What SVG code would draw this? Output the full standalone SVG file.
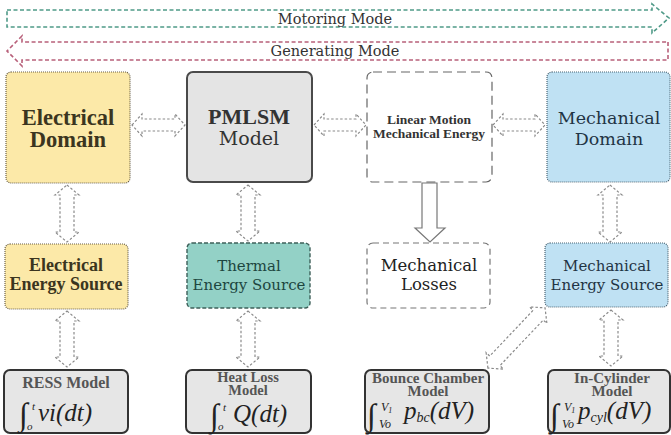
<svg xmlns="http://www.w3.org/2000/svg" width="671" height="435" viewBox="0 0 671 435">
<defs>
<style>
text{font-family:"Liberation Serif","Times New Roman",serif;text-anchor:middle}
.r{font-family:"DejaVu Serif","Liberation Serif",serif}
.b{font-weight:bold}
.m{font-style:italic;text-anchor:start}
.da{fill:#fff;stroke:#8a8a8a;stroke-width:1.2;stroke-dasharray:2.5 2}
.yel{fill:#fce9a8;stroke:#6a6048;stroke-width:1.2;stroke-dasharray:1 1}
.blu{fill:#bfe1f3;stroke:#4d6675;stroke-width:1.2;stroke-dasharray:1 1}
.gry{fill:#e4e4e4;stroke:#4a4a4a;stroke-width:2}
.bot{fill:#e6e6e6;stroke:#333;stroke-width:2}
</style>
</defs>

<g id="motoring">
<path d="M7,10 L652,10 L652,4 L669,18 L652,33 L652,27 L7,27 Z" fill="#fff" stroke="#4f9a88" stroke-width="1.6" stroke-dasharray="4 2.5"/>
<text class="r" x="335" y="24" font-size="14.5" fill="#333">Motoring Mode</text>
</g>
<g id="generating">
<path d="M668,42 L668,60 L22,60 L22,66 L7,51 L22,36 L22,42 Z" fill="#fff" stroke="#b8607a" stroke-width="1.6" stroke-dasharray="4 2.5"/>
<text class="r" x="335" y="56" font-size="14.5" fill="#333">Generating Mode</text>
</g>

<g id="connectors">
<path class="da" d="M132,125 L142,114 L142,119 L175,119 L175,114 L185,125 L175,136 L175,131 L142,131 L142,136 Z"/>
<path class="da" d="M314,125 L324,114 L324,119 L356,119 L356,114 L366,125 L356,136 L356,131 L324,131 L324,136 Z"/>
<path class="da" d="M493,125 L503,114 L503,119 L535,119 L535,114 L545,125 L535,136 L535,131 L503,131 L503,136 Z"/>
<path class="da" d="M67,185 L79,195 L74,195 L74,232 L79,232 L67,242 L55,232 L60,232 L60,195 L55,195 Z"/>
<path class="da" d="M248,185 L260,195 L255,195 L255,231 L260,231 L248,241 L236,231 L241,231 L241,195 L236,195 Z"/>
<path class="da" d="M610,185 L622,195 L617,195 L617,232 L622,232 L610,242 L598,232 L603,232 L603,195 L598,195 Z"/>
<path class="da" d="M67,311 L79,321 L74,321 L74,357 L79,357 L67,367 L55,357 L60,357 L60,321 L55,321 Z"/>
<path class="da" d="M248,311 L260,321 L255,321 L255,357 L260,357 L248,367 L236,357 L241,357 L241,321 L236,321 Z"/>
<path class="da" d="M611,310 L623,320 L618,320 L618,356 L623,356 L611,366 L599,356 L604,356 L604,320 L599,320 Z"/>
<path class="da" transform="translate(516.5,338) rotate(-46.5)" d="M-41.5,0 L-31.5,-12 L-31.5,-7 L31.5,-7 L31.5,-12 L41.5,0 L31.5,12 L31.5,7 L-31.5,7 L-31.5,12 Z"/>
<path d="M422,183 L437,183 L437,228 L445,228 L430,242 L415,228 L422,228 Z" fill="#fff" stroke="#777" stroke-width="1.2"/>
</g>

<g id="electrical-domain">
<rect class="yel" x="6" y="72" width="124" height="111" rx="5"/>
<text class="b" x="68" y="125" font-size="22.5" fill="#3b3520">Electrical</text>
<text class="b" x="68" y="147" font-size="22.5" fill="#3b3520">Domain</text>
</g>
<g id="pmlsm-model">
<rect class="gry" x="187" y="72" width="125" height="110" rx="6"/>
<text class="b" x="249" y="124" font-size="22" fill="#333">PMLSM</text>
<text class="r" x="249" y="145" font-size="19" fill="#333">Model</text>
</g>
<g id="linear-motion">
<rect x="367" y="72" width="125" height="110" rx="6" fill="#fff" stroke="#666" stroke-width="1.2" stroke-dasharray="9 5"/>
<text class="b" x="429" y="124" font-size="13.5" fill="#333">Linear Motion</text>
<text class="b" x="429" y="138" font-size="13.5" fill="#333">Mechanical Energy</text>
</g>
<g id="mechanical-domain">
<rect class="blu" x="547" y="72" width="123" height="110" rx="5"/>
<text class="r" x="609" y="124" font-size="17.5" fill="#1f3444">Mechanical</text>
<text class="r" x="609" y="145" font-size="17.5" fill="#1f3444">Domain</text>
</g>

<g id="electrical-energy-source">
<rect class="yel" x="5" y="244" width="123" height="65" rx="5"/>
<text class="b" x="66" y="271" font-size="18" fill="#3b3520">Electrical</text>
<text class="b" x="66" y="290" font-size="18" fill="#3b3520">Energy Source</text>
</g>
<g id="thermal-energy-source">
<rect x="187" y="243" width="123" height="65" rx="5" fill="#93d1c6" stroke="#3e605a" stroke-width="1.4" stroke-dasharray="4 2"/>
<text class="r" x="249" y="271" font-size="15" fill="#1d4640">Thermal</text>
<text class="r" x="249" y="290" font-size="15" fill="#1d4640">Energy Source</text>
</g>
<g id="mechanical-losses">
<rect x="367" y="243" width="123" height="65" rx="6" fill="#fff" stroke="#777" stroke-width="1.2" stroke-dasharray="6 4"/>
<text class="r" x="429" y="271" font-size="16.5" fill="#222">Mechanical</text>
<text class="r" x="429" y="290" font-size="16.5" fill="#222">Losses</text>
</g>
<g id="mechanical-energy-source">
<rect class="blu" x="545" y="243" width="123" height="64" rx="5"/>
<text class="r" x="607" y="271" font-size="15" fill="#1f3444">Mechanical</text>
<text class="r" x="607" y="290" font-size="15" fill="#1f3444">Energy Source</text>
</g>

<g id="ress-model">
<rect class="bot" x="4" y="370" width="124" height="63" rx="6"/>
<text class="b" x="66" y="388" font-size="16" fill="#555">RESS Model</text>
<text class="m" x="19" y="425" font-size="32" fill="#222">∫</text>
<text class="m" x="32" y="410" font-size="11" fill="#222">t</text>
<text class="m" x="27" y="430" font-size="11" fill="#222">o</text>
<text class="m" x="38" y="421" font-size="25" fill="#222">vi(dt)</text>
</g>
<g id="heat-loss-model">
<rect class="bot" x="186" y="370" width="125" height="63" rx="6"/>
<text class="b" x="248" y="382" font-size="14.5" fill="#555">Heat Loss</text>
<text class="b" x="248" y="395" font-size="14.5" fill="#555">Model</text>
<text class="m" x="210" y="426" font-size="32" fill="#222">∫</text>
<text class="m" x="223" y="411" font-size="11" fill="#222">t</text>
<text class="m" x="218" y="430" font-size="11" fill="#222">o</text>
<text class="m" x="233" y="422" font-size="25" fill="#222">Q(dt)</text>
</g>
<g id="bounce-chamber-model">
<rect class="bot" x="365" y="370" width="124" height="63" rx="6"/>
<text class="b" x="428" y="383" font-size="15" fill="#555">Bounce Chamber</text>
<text class="b" x="428" y="396" font-size="15" fill="#555">Model</text>
<text class="m" x="367" y="426" font-size="32" fill="#222">∫</text>
<text class="m" x="381" y="411" font-size="12" fill="#222">V<tspan font-size="8" dy="2">1</tspan></text>
<text class="m" x="379" y="428" font-size="12" fill="#222">Vo</text>
<text class="m" x="404" y="419" font-size="25" fill="#222">p<tspan font-size="14" dy="3">bc</tspan><tspan dy="-3">(dV)</tspan></text>
</g>
<g id="in-cylinder-model">
<rect class="bot" x="548" y="370" width="122" height="63" rx="6"/>
<text class="b" x="612" y="383" font-size="15" fill="#555">In-Cylinder</text>
<text class="b" x="612" y="396" font-size="15" fill="#555">Model</text>
<text class="m" x="550" y="426" font-size="32" fill="#222">∫</text>
<text class="m" x="564" y="411" font-size="12" fill="#222">V<tspan font-size="8" dy="2">1</tspan></text>
<text class="m" x="562" y="428" font-size="12" fill="#222">Vo</text>
<text class="m" x="578" y="419" font-size="25" fill="#222">p<tspan font-size="14" dy="3">cyl</tspan><tspan dy="-3">(dV)</tspan></text>
</g>
</svg>
